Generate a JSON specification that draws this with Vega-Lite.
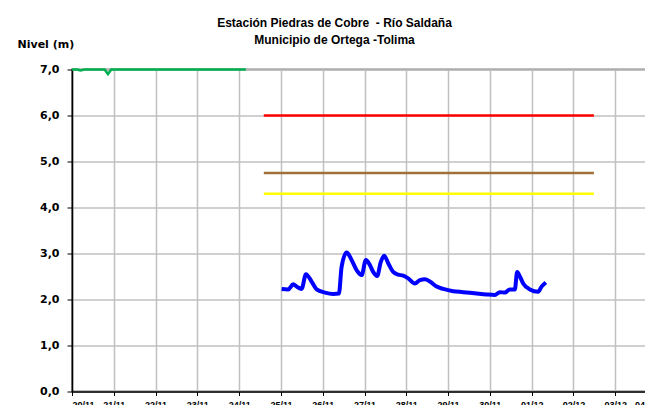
{
  "$schema": "https://vega.github.io/schema/vega-lite/v6.json",
  "width": 585,
  "height": 322,
  "autosize": {"type": "none"},
  "padding": {"left": 72, "top": 69.5, "right": 0, "bottom": 13.5},
  "background": "white",
  "config": {
    "font": "Liberation Sans",
    "view": {"stroke": "#808080", "strokeWidth": 2},
    "axis": {"labelFont": "DejaVu Sans", "labelFontWeight": "bold", "labelColor": "black", "titleFont": "DejaVu Sans"}
  },
  "title": {
    "text": ["Estación Piedras de Cobre \u00a0- Río Saldaña", "Municipio de Ortega -Tolima"],
    "font": "Liberation Sans",
    "fontSize": 12,
    "fontWeight": "bold",
    "color": "black",
    "anchor": "middle",
    "dx": -30,
    "dy": 34,
    "offset": 26,
    "lineHeight": 16.5
  },
  "datasets": {
    "verde": [
      {"x": 0.0, "y": 7.0},
      {"x": 0.12, "y": 7.0},
      {"x": 0.2, "y": 6.98},
      {"x": 0.3, "y": 7.0},
      {"x": 0.78, "y": 7.0},
      {"x": 0.86, "y": 6.9},
      {"x": 0.94, "y": 7.0},
      {"x": 4.16, "y": 7.0}
    ],
    "umbrales": [
      {"serie": "Roja", "x": 4.59, "y": 6.0},
      {"serie": "Roja", "x": 12.49, "y": 6.0},
      {"serie": "Naranja", "x": 4.59, "y": 4.75},
      {"serie": "Naranja", "x": 12.49, "y": 4.75},
      {"serie": "Amarilla", "x": 4.59, "y": 4.3},
      {"serie": "Amarilla", "x": 12.49, "y": 4.3}
    ],
    "nivel": [
      {"x": 5.017, "y": 2.23},
      {"x": 5.175, "y": 2.22},
      {"x": 5.294, "y": 2.33},
      {"x": 5.376, "y": 2.28},
      {"x": 5.495, "y": 2.23},
      {"x": 5.598, "y": 2.55},
      {"x": 5.734, "y": 2.39},
      {"x": 5.854, "y": 2.22},
      {"x": 6.053, "y": 2.15},
      {"x": 6.251, "y": 2.12},
      {"x": 6.388, "y": 2.13},
      {"x": 6.452, "y": 2.71},
      {"x": 6.572, "y": 3.02},
      {"x": 6.691, "y": 2.86},
      {"x": 6.811, "y": 2.64},
      {"x": 6.931, "y": 2.53},
      {"x": 7.033, "y": 2.86},
      {"x": 7.129, "y": 2.75},
      {"x": 7.208, "y": 2.6},
      {"x": 7.304, "y": 2.51},
      {"x": 7.385, "y": 2.8},
      {"x": 7.471, "y": 2.95},
      {"x": 7.567, "y": 2.79},
      {"x": 7.687, "y": 2.6},
      {"x": 7.806, "y": 2.54},
      {"x": 7.926, "y": 2.52},
      {"x": 8.045, "y": 2.46},
      {"x": 8.206, "y": 2.35},
      {"x": 8.325, "y": 2.42},
      {"x": 8.445, "y": 2.44},
      {"x": 8.565, "y": 2.39},
      {"x": 8.725, "y": 2.28},
      {"x": 8.883, "y": 2.23},
      {"x": 9.122, "y": 2.18},
      {"x": 9.361, "y": 2.16},
      {"x": 9.682, "y": 2.13},
      {"x": 9.921, "y": 2.11},
      {"x": 10.12, "y": 2.1},
      {"x": 10.239, "y": 2.16},
      {"x": 10.359, "y": 2.15},
      {"x": 10.478, "y": 2.22},
      {"x": 10.598, "y": 2.22},
      {"x": 10.653, "y": 2.6},
      {"x": 10.718, "y": 2.5},
      {"x": 10.797, "y": 2.35},
      {"x": 10.957, "y": 2.22},
      {"x": 11.156, "y": 2.17},
      {"x": 11.237, "y": 2.28},
      {"x": 11.34, "y": 2.37}
    ]
  },
  "layer": [
    {
      "data": {"name": "verde"},
      "mark": {"type": "line", "color": "#00B050", "strokeWidth": 2.5},
      "encoding": {
        "x": {
          "field": "x", "type": "quantitative",
          "scale": {"domain": [0, 14], "nice": false, "zero": false},
          "axis": {
            "title": null,
            "values": [0,1,2,3,4,5,6,7,8,9,10,11,12,13,14],
            "grid": true, "gridColor": "#C0C0C0", "gridWidth": 1.5,
            "domainColor": "black", "domainWidth": 1.5,
            "tickColor": "black", "tickSize": 4, "tickWidth": 1,
            "labelFont": "Liberation Sans", "labelFontSize": 9, "labelPadding": 5,
            "labelOverlap": false,
            "labelExpr": "timeFormat(datetime(2011, 10, 20 + datum.value), '%d/%m')"
          }
        },
        "y": {
          "field": "y", "type": "quantitative",
          "scale": {"domain": [0, 7], "nice": false},
          "axis": {
            "title": "Nivel (m)",
            "titleAngle": 0, "titleAlign": "left", "titleBaseline": "alphabetic",
            "titleX": -55, "titleY": -22,
            "titleFontSize": 11, "titleFontWeight": "bold", "titleColor": "black",
            "values": [0,0.5,1,1.5,2,2.5,3,3.5,4,4.5,5,5.5,6,6.5,7],
            "grid": true, "gridColor": "#C0C0C0", "gridWidth": 1.5,
            "domainColor": "black", "domainWidth": 1.5,
            "tickColor": "black", "tickSize": 5, "tickWidth": 1,
            "tickOpacity": {"expr": "datum.value % 1 === 0 ? 1 : 0"},
            "labelFontSize": 11, "labelPadding": 8,
            "labelExpr": "datum.value % 1 === 0 ? replace(format(datum.value, '.1f'), '.', ',') : ''"
          }
        }
      }
    },
    {
      "data": {"name": "umbrales"},
      "mark": {"type": "line", "strokeWidth": 2.5},
      "encoding": {
        "x": {"field": "x", "type": "quantitative"},
        "y": {"field": "y", "type": "quantitative"},
        "color": {
          "field": "serie", "type": "nominal",
          "scale": {"domain": ["Roja", "Naranja", "Amarilla"], "range": ["#FF0000", "#A0703A", "#FFFF00"]},
          "legend": null
        }
      }
    },
    {
      "data": {"name": "nivel"},
      "mark": {"type": "line", "color": "#0000FF", "strokeWidth": 4, "interpolate": "monotone"},
      "encoding": {
        "x": {"field": "x", "type": "quantitative"},
        "y": {"field": "y", "type": "quantitative"}
      }
    }
  ]
}
